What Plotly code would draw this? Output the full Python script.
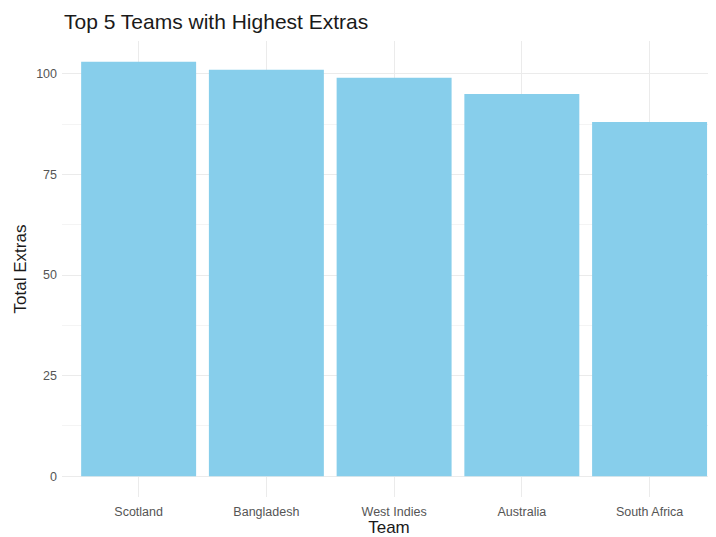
import plotly.graph_objects as go

teams = ["Scotland", "Bangladesh", "West Indies", "Australia", "South Africa"]
extras = [103, 101, 99, 95, 88]

fig = go.Figure(go.Bar(x=teams, y=extras, marker_color="#87CEEB", width=0.9,
                       marker_line_width=0))

font = "Liberation Sans, Arial, sans-serif"
# page body has an 8px margin, so the figure is 708x529 placed at (8, 8)
W, H = 708, 529
fig.update_layout(
    width=W, height=H,
    margin=dict(l=54, r=0, t=33, b=40),
    paper_bgcolor="white", plot_bgcolor="white",
    title=dict(text="Top 5 Teams with Highest Extras", x=56/W, xanchor="left",
               y=1-14/H, yanchor="middle",
               font=dict(family=font, size=21, color="#1a1a1a")),
    font=dict(family=font),
    showlegend=False,
)
fig.update_xaxes(
    range=[-0.6, 4.52], showgrid=True, gridcolor="#ebebeb", gridwidth=1,
    zeroline=False, showline=False, ticks="", ticklabelstandoff=5,
    tickfont=dict(size=12.5, color="#555555"),
    title=dict(text="Team", font=dict(size=17, color="#1a1a1a"), standoff=6),
    automargin=False,
)
fig.update_yaxes(
    range=[-5.15, 108.15], tickvals=[0, 25, 50, 75, 100],
    showgrid=True, gridcolor="#ebebeb", gridwidth=1,
    minor=dict(tickvals=[12.5, 37.5, 62.5, 87.5], showgrid=True,
               gridcolor="#f4f4f4", gridwidth=0.6),
    zeroline=False, showline=False, ticks="", ticklabelstandoff=4,
    tickfont=dict(size=12.5, color="#555555"),
    title=dict(text="Total Extras", font=dict(size=17, color="#1a1a1a"), standoff=5),
    automargin=False,
)
fig.write_html("out.html")
